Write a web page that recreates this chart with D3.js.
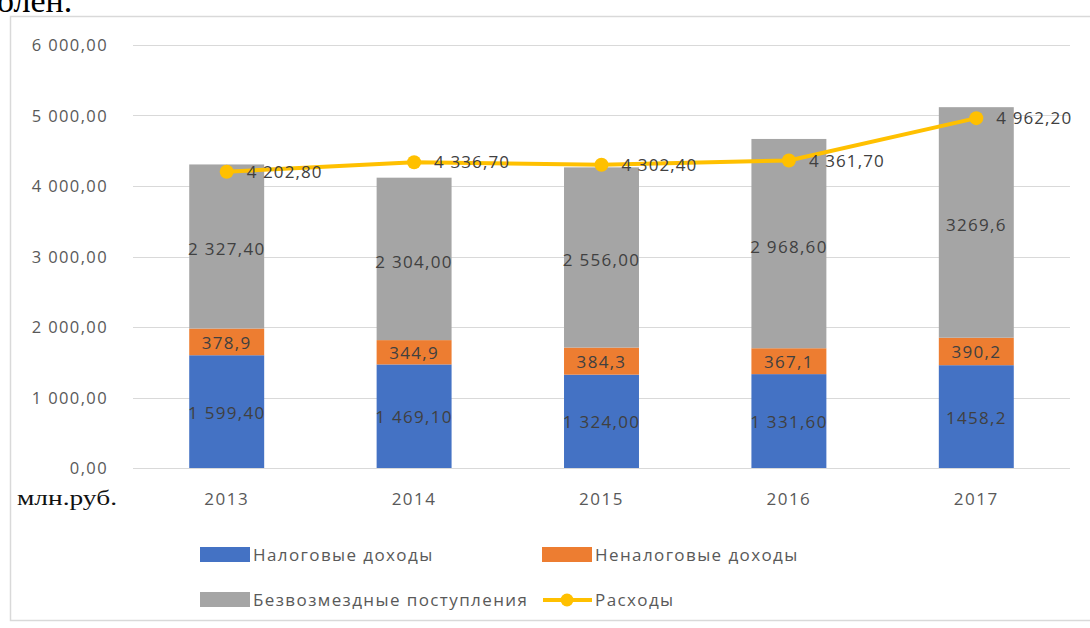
<!DOCTYPE html>
<html><head><meta charset="utf-8">
<script src="https://cdn.jsdelivr.net/npm/d3@7"></script>
<style>body{margin:0;background:#fff;}svg{display:block;}</style>
</head><body>
<svg id="c" width="1090" height="628"></svg>
<script>
const years = ["2013","2014","2015","2016","2017"];
const taxIncome = [1599.4, 1469.1, 1324.0, 1331.6, 1458.2];
const nonTaxIncome = [378.9, 344.9, 384.3, 367.1, 390.2];
const grants = [2327.4, 2304.0, 2556.0, 2968.6, 3269.6];
const expenses = [4202.8, 4336.7, 4302.4, 4361.7, 4962.2];
const taxLabels = ["1 599,40","1 469,10","1 324,00","1 331,60","1458,2"];
const nonTaxLabels = ["378,9","344,9","384,3","367,1","390,2"];
const grantLabels = ["2 327,40","2 304,00","2 556,00","2 968,60","3269,6"];
const expLabels = ["4 202,80","4 336,70","4 302,40","4 361,70","4 962,20"];
const yTicks = [0,1000,2000,3000,4000,5000,6000];
const yTickLabels = ["0,00","1 000,00","2 000,00","3 000,00","4 000,00","5 000,00","6 000,00"];
const seriesNames = ["Налоговые доходы","Неналоговые доходы","Безвозмездные поступления","Расходы"];
const colors = ["#4472C4","#ED7D31","#A5A5A5","#FFC000"];

const svg = d3.select("#c");
const font = "'Open Sans', 'DejaVu Sans', sans-serif";

// frame
svg.append("rect").attr("x",10.5).attr("y",16.5).attr("width",1090).attr("height",604)
  .attr("fill","#fff").attr("stroke","#d9d9d9").attr("stroke-width",1.5);

// partial document text (cut off at top edge, as in the source image)
svg.append("text").attr("x",-3).attr("y",12).attr("font-family","'Liberation Serif', serif")
  .attr("font-size",34).attr("fill","#000").text("олен.");

const x = d3.scaleBand().domain(years).range([133,1070]).paddingInner(0.6).paddingOuter(0.3);
const y = d3.scaleLinear().domain([0,6000]).range([468,45]);

// gridlines
svg.append("g").selectAll("line").data(yTicks).join("line")
  .attr("x1",133).attr("x2",1070).attr("y1",d=>Math.round(y(d))+0.5).attr("y2",d=>Math.round(y(d))+0.5)
  .attr("stroke","#d9d9d9").attr("stroke-width",1);

// y labels
svg.append("g").selectAll("text").data(yTicks).join("text")
  .attr("x",108).attr("y",d=>y(d)+6).attr("text-anchor","end")
  .attr("font-family",font).attr("font-size",16.5).attr("letter-spacing",1.4).attr("fill","#595959")
  .text((d,i)=>yTickLabels[i]);

// x labels
svg.append("g").selectAll("text").data(years).join("text")
  .attr("x",d=>x(d)+x.bandwidth()/2).attr("y",505).attr("text-anchor","middle")
  .attr("font-family",font).attr("font-size",17).attr("letter-spacing",1.5).attr("fill","#595959").text(d=>d);

svg.append("text").attr("x",17).attr("y",505).attr("font-family","'Liberation Serif', serif")
  .attr("font-size",22).attr("fill","#111")
  .attr("textLength",100).attr("lengthAdjust","spacingAndGlyphs").text("млн.руб.");

// stacked bars
const rows = years.map((yr,i)=>({year:yr, tax:taxIncome[i], nontax:nonTaxIncome[i], grants:grants[i]}));
const stack = d3.stack().keys(["tax","nontax","grants"])(rows);
const labelSets = [taxLabels, nonTaxLabels, grantLabels];
stack.forEach((s,k)=>{
  const g = svg.append("g");
  g.selectAll("rect").data(s).join("rect")
    .attr("x",d=>x(d.data.year)).attr("width",x.bandwidth())
    .attr("y",d=>y(d[1])).attr("height",d=>y(d[0])-y(d[1]))
    .attr("fill",colors[k]);
  g.selectAll("text").data(s).join("text")
    .attr("x",d=>x(d.data.year)+x.bandwidth()/2).attr("y",d=>(y(d[0])+y(d[1]))/2+ (k===2?9:7))
    .attr("text-anchor","middle").attr("font-family",font).attr("font-size",17).attr("letter-spacing",1.3)
    .attr("fill","#404040").text((d,i)=>labelSets[k][i]);
});

// line
const line = d3.line().x((d,i)=>x(years[i])+x.bandwidth()/2).y(d=>y(d));
svg.append("path").datum(expenses).attr("d",line).attr("fill","none")
  .attr("stroke",colors[3]).attr("stroke-width",4).attr("stroke-linejoin","round");
svg.append("g").selectAll("circle").data(expenses).join("circle")
  .attr("cx",(d,i)=>x(years[i])+x.bandwidth()/2).attr("cy",d=>y(d)).attr("r",7)
  .attr("fill",colors[3]);
svg.append("g").selectAll("text").data(expenses).join("text")
  .attr("x",(d,i)=>x(years[i])+x.bandwidth()/2+20).attr("y",d=>y(d)+6)
  .attr("font-family",font).attr("font-size",17).attr("letter-spacing",1.1).attr("fill","#404040")
  .text((d,i)=>expLabels[i]);

// legend
const leg = [
  {name:seriesNames[0], c:colors[0], x:200, y:555, type:"rect"},
  {name:seriesNames[1], c:colors[1], x:542, y:555, type:"rect"},
  {name:seriesNames[2], c:colors[2], x:200, y:600, type:"rect"},
  {name:seriesNames[3], c:colors[3], x:542, y:600, type:"line"}
];
const lg = svg.append("g");
leg.forEach(l=>{
  if(l.type==="rect"){
    lg.append("rect").attr("x",l.x).attr("y",l.y-8).attr("width",50).attr("height",15).attr("fill",l.c);
  } else {
    lg.append("line").attr("x1",l.x+1).attr("x2",l.x+50).attr("y1",l.y).attr("y2",l.y)
      .attr("stroke",l.c).attr("stroke-width",4);
    lg.append("circle").attr("cx",l.x+25).attr("cy",l.y).attr("r",6.5).attr("fill",l.c);
  }
  lg.append("text").attr("x",l.x+53).attr("y",l.y+6).attr("font-family",font)
    .attr("font-size",17).attr("fill","#595959").attr("letter-spacing",1.4).text(l.name);
});
</script>
</body></html>
